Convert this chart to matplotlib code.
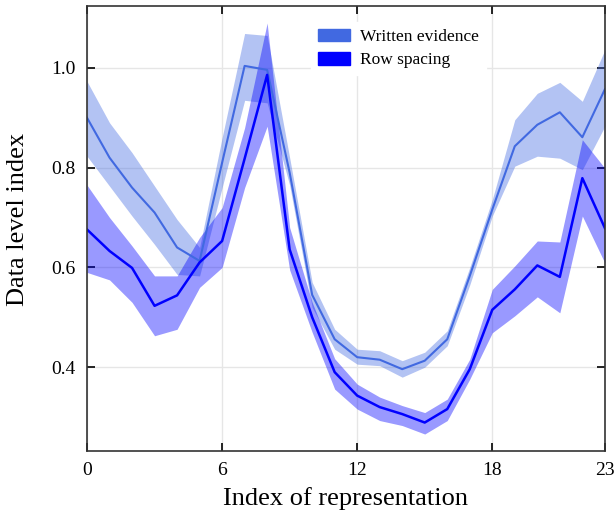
import numpy as np
import matplotlib
matplotlib.use("Agg")
from matplotlib import pyplot as plt
from matplotlib.patches import Patch

plt.rcParams['font.family'] = ['Liberation Serif', 'DejaVu Serif']

x = np.arange(24)

# Written evidence: mean and band
written_mean = [0.900, 0.820, 0.760, 0.710, 0.640, 0.613, 0.810, 1.004, 0.996, 0.790,
                0.545, 0.456, 0.420, 0.415, 0.396, 0.413, 0.456, 0.583, 0.716, 0.843,
                0.886, 0.911, 0.861, 0.957]
written_low = [0.823, 0.763, 0.703, 0.646, 0.586, 0.583, 0.760, 0.935, 0.930, 0.765,
               0.520, 0.436, 0.406, 0.403, 0.380, 0.400, 0.443, 0.565, 0.703, 0.803,
               0.823, 0.819, 0.796, 0.883]
written_high = [0.973, 0.890, 0.830, 0.763, 0.696, 0.640, 0.860, 1.069, 1.065, 0.820,
                0.570, 0.476, 0.436, 0.433, 0.413, 0.430, 0.473, 0.600, 0.736, 0.896,
                0.949, 0.971, 0.933, 1.036]

# Row spacing: mean and band
row_mean = [0.676, 0.633, 0.599, 0.523, 0.544, 0.610, 0.653, 0.818, 0.986, 0.636,
            0.500, 0.390, 0.343, 0.320, 0.306, 0.289, 0.316, 0.396, 0.515, 0.556,
            0.604, 0.581, 0.779, 0.679]
row_low = [0.590, 0.575, 0.530, 0.463, 0.476, 0.560, 0.600, 0.760, 0.883, 0.595,
           0.470, 0.356, 0.316, 0.293, 0.283, 0.266, 0.293, 0.376, 0.469, 0.503,
           0.541, 0.509, 0.703, 0.609]
row_high = [0.765, 0.700, 0.643, 0.583, 0.583, 0.660, 0.720, 0.880, 1.090, 0.680,
            0.530, 0.417, 0.366, 0.340, 0.323, 0.309, 0.336, 0.416, 0.556, 0.603,
            0.653, 0.651, 0.856, 0.799]

xticks = [0, 6, 12, 18, 23]
yticks = [0.4, 0.6, 0.8, 1.0]

c_written = '#4169e1'
c_row = '#0000ff'

fig = plt.figure(figsize=(6.15, 5.21), dpi=100)
ax = fig.add_axes([0.1415, 0.1344, 0.842, 0.854])

ax.fill_between(x, written_low, written_high, color=c_written, alpha=0.4, lw=0)
ax.plot(x, written_mean, color=c_written, lw=1.5)
ax.fill_between(x, row_low, row_high, color=c_row, alpha=0.4, lw=0)
ax.plot(x, row_mean, color=c_row, lw=1.8)

ax.set_xlim(0, 23)
ax.set_ylim(0.232, 1.124)
ax.set_xticks(xticks)
ax.set_yticks(yticks)
ax.set_yticklabels(['%.1f' % v for v in yticks])
ax.grid(True, color='#e6e6e6', lw=1)
ax.set_axisbelow(True)
ax.tick_params(direction='in', top=True, right=True, length=6, width=1.2,
               labelsize=14, pad=8)
for s in ax.spines.values():
    s.set_linewidth(1.2)
    s.set_color('#333333')

ax.set_xlabel('Index of representation', fontsize=19, labelpad=6)
ax.set_ylabel('Data level index', fontsize=19)
ax.yaxis.set_label_coords(-0.112, 0.52)

handles = [Patch(color=c_written), Patch(color=c_row)]
leg = ax.legend(handles, ['Written evidence', 'Row spacing'], loc='upper left',
                bbox_to_anchor=(0.432, 0.965), frameon=True, fontsize=12.5,
                handlelength=1.85, handleheight=0.75, handletextpad=0.6,
                labelspacing=0.4, borderaxespad=0)
leg.get_frame().set_edgecolor('white')
leg.get_frame().set_alpha(1)

fig.savefig('out.png', dpi=100)
